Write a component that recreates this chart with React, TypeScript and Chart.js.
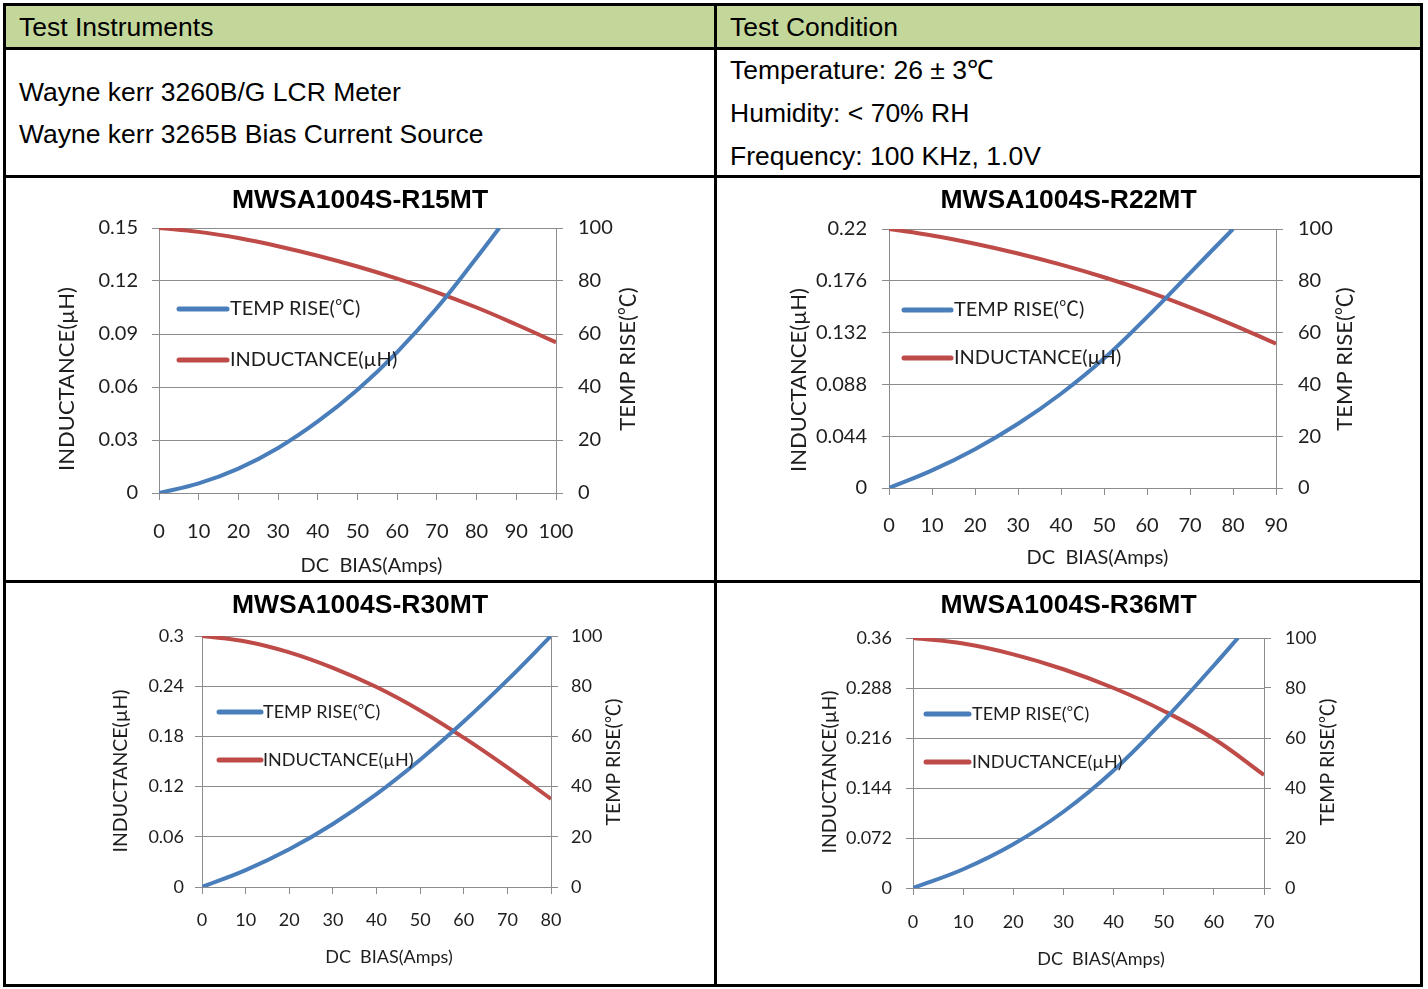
import React, { useEffect, useRef } from "react";
import { Chart, registerables } from "chart.js";

Chart.register(...registerables);

// ---------------- DATA ----------------
// MWSA1004S-R15MT
const R15_CURRENT = [0, 10, 20, 30, 40, 50, 60, 70, 80, 90, 100];
const R15_INDUCTANCE = [0.15, 0.1478, 0.1443, 0.1397, 0.1343, 0.1282, 0.1213, 0.1136, 0.105, 0.0954, 0.0853];
const R15_TEMP_CURRENT = [0, 10, 20, 30, 40, 50, 60, 70, 80, 85.7];
const R15_TEMP_RISE = [0, 3.6, 9.2, 17, 27, 39, 53.2, 69.8, 88.8, 100];
const R15_X_TICKS = [0, 10, 20, 30, 40, 50, 60, 70, 80, 90, 100];
const R15_L_TICKS = [0, 0.03, 0.06, 0.09, 0.12, 0.15];

// MWSA1004S-R22MT
const R22_CURRENT = [0, 10, 20, 30, 40, 50, 60, 70, 80, 90];
const R22_INDUCTANCE = [0.22, 0.2145, 0.2075, 0.1992, 0.1897, 0.179, 0.167, 0.1535, 0.1386, 0.1226];
const R22_TEMP_CURRENT = [0, 10, 20, 30, 40, 50, 60, 70, 80];
const R22_TEMP_RISE = [0, 6.8, 15, 24.8, 36.4, 50, 66, 83, 100];
const R22_X_TICKS = [0, 10, 20, 30, 40, 50, 60, 70, 80, 90];
const R22_L_TICKS = [0, 0.044, 0.088, 0.132, 0.176, 0.22];

// MWSA1004S-R30MT
const R30_CURRENT = [0, 10, 20, 30, 40, 50, 60, 70, 80];
const R30_INDUCTANCE = [0.3, 0.2935, 0.2805, 0.262, 0.239, 0.211, 0.1785, 0.143, 0.1053];
const R30_TEMP_CURRENT = [0, 10, 20, 30, 40, 50, 60, 70, 80];
const R30_TEMP_RISE = [0, 6.7, 15, 25.1, 37, 50.7, 65.9, 82.4, 100];
const R30_X_TICKS = [0, 10, 20, 30, 40, 50, 60, 70, 80];
const R30_L_TICKS = [0, 0.06, 0.12, 0.18, 0.24, 0.3];

// MWSA1004S-R36MT
const R36_CURRENT = [0, 10, 20, 30, 40, 50, 60, 70];
const R36_INDUCTANCE = [0.36, 0.352, 0.3365, 0.315, 0.288, 0.255, 0.215, 0.1628];
const R36_TEMP_CURRENT = [0, 10, 20, 30, 40, 50, 60, 64.8];
const R36_TEMP_RISE = [0, 7.5, 17.5, 30.5, 47, 67, 89, 100];
const R36_X_TICKS = [0, 10, 20, 30, 40, 50, 60, 70];
const R36_L_TICKS = [0, 0.072, 0.144, 0.216, 0.288, 0.36];

const TEMP_TICKS = [0, 20, 40, 60, 80, 100];

const LEGEND_TEMP = "TEMP RISE(℃)";
const LEGEND_IND = "INDUCTANCE(µH)";
const Y_TITLE = "INDUCTANCE(µH)";
const R_TITLE = "TEMP RISE(℃)";
const X_TITLE = "DC  BIAS(Amps)";

// ---------------- STYLE ----------------
const BLUE = "#4A7EBB";
const RED = "#BE4B48";
const GRID = "#8c8c8c";
const TEXT = "#1e1e1e";
const CHART_FAMILY = 'Lato, "Noto Sans CJK SC", sans-serif';
const TABLE_FAMILY = '"Liberation Sans", Arial, sans-serif';
const TITLE_SIZE = 26.5;
const TITLE_LH = TITLE_SIZE * 1.2;

interface Spec {
  title: string;
  left: number; top: number; width: number; height: number;
  plot: { l: number; t: number; r: number; b: number };
  titleY: number;
  current: number[]; inductance: number[]; tempCurrent: number[]; temp: number[];
  xTicks: number[]; lTicks: number[];
  tickFont: number; legendFont: number; axisTitleFont: number; xTitleFont: number;
  lPad: number; rPad: number; xPad: number;
  yTitle: [number, number]; rTitle: [number, number]; xTitle: [number, number];
  legend: { x1: number; x2: number; y1: number; y2: number; tx: number };
}

const SPECS: Spec[] = [
  {
    title: "MWSA1004S-R15MT",
    left: 6, top: 178, width: 708, height: 402,
    plot: { l: 159, t: 228, r: 556, b: 493 },
    titleY: 201,
    current: R15_CURRENT, inductance: R15_INDUCTANCE, tempCurrent: R15_TEMP_CURRENT, temp: R15_TEMP_RISE,
    xTicks: R15_X_TICKS, lTicks: R15_L_TICKS,
    tickFont: 20, legendFont: 20, axisTitleFont: 22, xTitleFont: 20,
    lPad: 14, rPad: 15, xPad: 20,
    yTitle: [67, 379], rTitle: [628, 359], xTitle: [371.5, 566],
    legend: { x1: 179, x2: 227, y1: 309, y2: 360, tx: 230 },
  },
  {
    title: "MWSA1004S-R22MT",
    left: 717, top: 178, width: 703, height: 402,
    plot: { l: 889, t: 229, r: 1276, b: 488 },
    titleY: 201,
    current: R22_CURRENT, inductance: R22_INDUCTANCE, tempCurrent: R22_TEMP_CURRENT, temp: R22_TEMP_RISE,
    xTicks: R22_X_TICKS, lTicks: R22_L_TICKS,
    tickFont: 20, legendFont: 20, axisTitleFont: 22, xTitleFont: 20,
    lPad: 15, rPad: 15, xPad: 19,
    yTitle: [799, 380], rTitle: [1345, 359], xTitle: [1097.5, 558],
    legend: { x1: 904, x2: 951, y1: 310, y2: 358, tx: 954 },
  },
  {
    title: "MWSA1004S-R30MT",
    left: 6, top: 583, width: 708, height: 401,
    plot: { l: 202, t: 636, r: 551, b: 887 },
    titleY: 606,
    current: R30_CURRENT, inductance: R30_INDUCTANCE, tempCurrent: R30_TEMP_CURRENT, temp: R30_TEMP_RISE,
    xTicks: R30_X_TICKS, lTicks: R30_L_TICKS,
    tickFont: 18, legendFont: 18, axisTitleFont: 19.5, xTitleFont: 18,
    lPad: 11, rPad: 13, xPad: 15,
    yTitle: [121, 771], rTitle: [614, 762], xTitle: [389, 957],
    legend: { x1: 219, x2: 261, y1: 712, y2: 760, tx: 263 },
  },
  {
    title: "MWSA1004S-R36MT",
    left: 717, top: 583, width: 703, height: 401,
    plot: { l: 913, t: 638, r: 1264, b: 888 },
    titleY: 606,
    current: R36_CURRENT, inductance: R36_INDUCTANCE, tempCurrent: R36_TEMP_CURRENT, temp: R36_TEMP_RISE,
    xTicks: R36_X_TICKS, lTicks: R36_L_TICKS,
    tickFont: 18, legendFont: 18, axisTitleFont: 19.5, xTitleFont: 18,
    lPad: 14, rPad: 14, xPad: 16,
    yTitle: [830, 772], rTitle: [1328, 762], xTitle: [1101, 959],
    legend: { x1: 926, x2: 969, y1: 714, y2: 762, tx: 972 },
  },
];

function makeDecor(s: Spec) {
  return {
    id: "decor",
    afterDatasetsDraw(chart: any) {
      const ctx: CanvasRenderingContext2D = chart.ctx;
      const ox = s.left;
      const oy = s.top;
      ctx.save();
      ctx.fillStyle = TEXT;
      ctx.textBaseline = "middle";
      const rot = (text: string, x: number, y: number, size: number) => {
        ctx.save();
        ctx.translate(x - ox, y - oy);
        ctx.rotate(-Math.PI / 2);
        ctx.textAlign = "center";
        ctx.font = `${size}px ${CHART_FAMILY}`;
        ctx.fillText(text, 0, 0);
        ctx.restore();
      };
      rot(Y_TITLE, s.yTitle[0], s.yTitle[1], s.axisTitleFont);
      rot(R_TITLE, s.rTitle[0], s.rTitle[1], s.axisTitleFont);
      ctx.textAlign = "center";
      ctx.font = `${s.xTitleFont}px ${CHART_FAMILY}`;
      ctx.fillText(X_TITLE, s.xTitle[0] - ox, s.xTitle[1] - oy);

      const rows = [s.legend.y1, s.legend.y2];
      chart.data.datasets.forEach((ds: any, i: number) => {
        const y = rows[i] - oy;
        ctx.strokeStyle = ds.borderColor;
        ctx.lineWidth = 5;
        ctx.lineCap = "round";
        ctx.beginPath();
        ctx.moveTo(s.legend.x1 - ox, y);
        ctx.lineTo(s.legend.x2 - ox, y);
        ctx.stroke();
        ctx.textAlign = "left";
        ctx.fillStyle = TEXT;
        ctx.font = `${s.legendFont}px ${CHART_FAMILY}`;
        ctx.fillText(ds.label, s.legend.tx - ox, y);
      });
      ctx.restore();
    },
  };
}

function buildConfig(s: Spec): any {
  const tickFont = { family: CHART_FAMILY, size: s.tickFont };
  const pt = s.titleY - s.top - TITLE_LH / 2;
  const pb = s.plot.t - s.top - pt - TITLE_LH;
  const lMax = s.lTicks[s.lTicks.length - 1];
  const xMax = s.xTicks[s.xTicks.length - 1];
  return {
    type: "line",
    data: {
      datasets: [
        {
          label: LEGEND_TEMP,
          data: s.tempCurrent.map((x, i) => ({ x, y: s.temp[i] })),
          yAxisID: "y1",
          borderColor: BLUE,
          backgroundColor: BLUE,
          borderWidth: 4,
          pointRadius: 0,
          tension: 0.4,
          fill: false,
        },
        {
          label: LEGEND_IND,
          data: s.current.map((x, i) => ({ x, y: s.inductance[i] })),
          yAxisID: "y",
          borderColor: RED,
          backgroundColor: RED,
          borderWidth: 4,
          pointRadius: 0,
          tension: 0.4,
          fill: false,
        },
      ],
    },
    options: {
      responsive: false,
      animation: false,
      devicePixelRatio: 1,
      layout: { padding: 0 },
      events: [],
      plugins: {
        legend: { display: false },
        tooltip: { enabled: false },
        title: {
          display: true,
          text: s.title,
          color: "#000",
          font: { family: TABLE_FAMILY, size: TITLE_SIZE, weight: "bold", lineHeight: 1.2 },
          padding: { top: pt, bottom: pb },
        },
      },
      scales: {
        x: {
          type: "linear",
          min: 0,
          max: xMax,
          afterBuildTicks: (sc: any) => {
            sc.ticks = s.xTicks.map((v) => ({ value: v }));
          },
          afterFit: (sc: any) => {
            sc.height = s.top + s.height - s.plot.b;
          },
          ticks: {
            font: tickFont,
            color: TEXT,
            padding: s.xPad,
            maxRotation: 0,
            autoSkip: false,
            callback: (v: number) => String(v),
          },
          grid: { drawOnChartArea: false, tickLength: 7, color: GRID },
          border: { color: GRID },
        },
        y: {
          type: "linear",
          position: "left",
          min: 0,
          max: lMax,
          afterBuildTicks: (sc: any) => {
            sc.ticks = s.lTicks.map((v) => ({ value: v }));
          },
          afterFit: (sc: any) => {
            sc.width = s.plot.l - s.left;
          },
          ticks: {
            font: tickFont,
            color: TEXT,
            padding: s.lPad,
            callback: (v: number) => String(v),
          },
          grid: { color: GRID, tickLength: 7 },
          border: { color: GRID },
        },
        y1: {
          type: "linear",
          position: "right",
          min: 0,
          max: 100,
          afterBuildTicks: (sc: any) => {
            sc.ticks = TEMP_TICKS.map((v) => ({ value: v }));
          },
          afterFit: (sc: any) => {
            sc.width = s.left + s.width - s.plot.r;
          },
          ticks: {
            font: tickFont,
            color: TEXT,
            padding: s.rPad,
            callback: (v: number) => String(v),
          },
          grid: { drawOnChartArea: false, color: GRID, tickLength: 7 },
          border: { color: GRID },
        },
      },
    },
    plugins: [makeDecor(s)],
  };
}

function InductorChart({ spec }: { spec: Spec }) {
  const ref = useRef<HTMLCanvasElement>(null);
  useEffect(() => {
    const canvas = ref.current;
    if (!canvas) return;
    const chart = new Chart(canvas, buildConfig(spec));
    return () => chart.destroy();
  }, [spec]);
  return (
    <canvas
      ref={ref}
      width={spec.width}
      height={spec.height}
      style={{ position: "absolute", left: spec.left, top: spec.top, width: spec.width, height: spec.height }}
    />
  );
}

const lineStyle = (left: number, top: number, width: number, height: number): React.CSSProperties => ({
  position: "absolute",
  left,
  top,
  width,
  height,
  background: "#000",
});

const textStyle = (left: number, centerY: number): React.CSSProperties => ({
  position: "absolute",
  left,
  top: centerY - 15,
  height: 30,
  lineHeight: "30px",
  fontSize: TITLE_SIZE,
  whiteSpace: "nowrap",
  color: "#000",
});

export default function App() {
  return (
    <div
      style={{
        position: "fixed",
        left: 0,
        top: 0,
        width: 1428,
        height: 989,
        background: "#fff",
        overflow: "hidden",
        fontFamily: TABLE_FAMILY,
      }}
    >
      {/* header fill */}
      <div style={{ position: "absolute", left: 6, top: 6, width: 1414, height: 41, background: "#C4D79B" }} />

      {/* texts */}
      <div style={textStyle(19, 27)}>Test Instruments</div>
      <div style={textStyle(730, 27)}>Test Condition</div>
      <div style={textStyle(19, 92)}>Wayne kerr 3260B/G LCR Meter</div>
      <div style={textStyle(19, 134)}>Wayne kerr 3265B Bias Current Source</div>
      <div style={textStyle(730, 70)}>Temperature: 26 ± 3℃</div>
      <div style={textStyle(730, 113)}>Humidity: &lt; 70% RH</div>
      <div style={textStyle(730, 156)}>Frequency: 100 KHz, 1.0V</div>

      {SPECS.map((s) => (
        <InductorChart key={s.title} spec={s} />
      ))}

      {/* table lines */}
      <div style={lineStyle(3, 3, 1420, 3)} />
      <div style={lineStyle(3, 47, 1420, 3)} />
      <div style={lineStyle(3, 175, 1420, 3)} />
      <div style={lineStyle(3, 580, 1420, 3)} />
      <div style={lineStyle(3, 984, 1420, 3)} />
      <div style={lineStyle(3, 3, 3, 984)} />
      <div style={lineStyle(714, 3, 3, 984)} />
      <div style={lineStyle(1420, 3, 3, 984)} />
    </div>
  );
}
